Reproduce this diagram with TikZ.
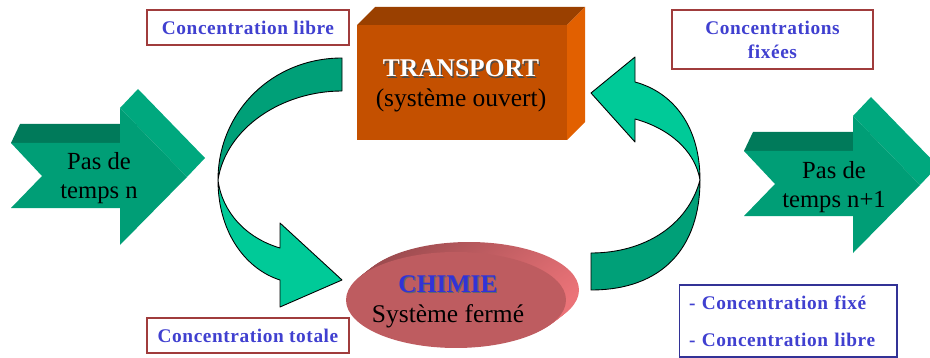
\documentclass[tikz,border=0pt]{standalone}
\usepackage{fontspec}
\setmainfont{Liberation Serif}
\newfontfamily\labelfont[LetterSpace=3]{Liberation Serif}
\usetikzlibrary{calc, positioning}

\definecolor{stepfront}{RGB}{0,158,118}
\definecolor{steptop}{RGB}{0,122,90}
\definecolor{stepside}{RGB}{0,168,126}
\definecolor{ribdark}{RGB}{0,160,120}
\definecolor{riblight}{RGB}{0,202,152}
\definecolor{boxfront}{RGB}{196,80,0}
\definecolor{boxtop}{RGB}{154,64,0}
\definecolor{boxside}{RGB}{226,96,0}
\definecolor{chimfront}{RGB}{190,92,96}
\definecolor{chimdark}{RGB}{158,76,80}
\definecolor{chimlight}{RGB}{235,115,120}
\definecolor{chimblue}{RGB}{50,50,215}
\definecolor{labelblue}{RGB}{64,64,208}
\definecolor{labelred}{RGB}{160,60,60}
\definecolor{labelnavy}{RGB}{50,50,150}

\tikzset{
  lbl/.style={draw=labelred, fill=white, line width=0.6pt, inner sep=0pt, align=center,
    font=\labelfont\bfseries\fontsize{11}{13.6}\selectfont, text=labelblue},
  steptext/.style={font=\fontsize{14}{16.8}\selectfont, align=center},
  bigtext/.style={font=\fontsize{14.5}{17}\selectfont, anchor=base},
  ribbon/.style={draw=black, line width=0.5pt, line join=round},
}

\begin{document}
\begin{tikzpicture}[x=0.02cm, y=-0.02cm]
  \useasboundingbox (0,0) rectangle (930,358);

  % time step arrows
  \foreach \sx/\sy in {0/0, 733/8} {
    \begin{scope}[shift={(\sx,\sy)}]
      \fill[steptop] (11,143) -- (20,124) -- (138,124) -- (120,143) -- cycle;
      \fill[stepside] (120,108) -- (138,89) -- (205,158) -- (187,177) -- cycle;
      \fill[stepfront] (11,143) -- (120,143) -- (120,108) -- (187,177) -- (120,245)
        -- (120,208) -- (11,208) -- (42,176) -- cycle;
    \end{scope}
  }
  \node[steptext] (stepn) at (99,178) {Pas de\\temps n};
  \node[steptext] (stepnext) at (834,187) {Pas de\\temps n+1};

  % transport block
  \fill[boxtop] (357,25) -- (375,7) -- (585,7) -- (567,25) -- cycle;
  \fill[boxside] (567,25) -- (585,7) -- (585,122) -- (567,140) -- cycle;
  \fill[boxfront] (357,25) rectangle (567,140);
  \node[bigtext, font=\bfseries\fontsize{14.5}{17}\selectfont, text=black!70] (transshadow) at (462.2,78.2) {TRANSPORT};
  \node[bigtext, font=\bfseries\fontsize{14.5}{17}\selectfont, text=white] (transtitle) at (461,77) {TRANSPORT};
  \node[bigtext] (transsub) at (461,107) {(système ouvert)};

  % chemistry disk
  \foreach \k in {10,...,1}
    \shade[top color=chimdark, bottom color=chimlight, shading angle=45] ($(456,300)+(1.3*\k,-1*\k)$) ellipse [x radius=2.2cm, y radius=0.96cm];
  \fill[chimfront] (456,300) ellipse [x radius=2.2cm, y radius=0.96cm];
  \node[bigtext, font=\bfseries\fontsize{14.5}{17}\selectfont, text=black!60] (chimshadow) at (449.2,293.2) {CHIMIE};
  \node[bigtext, font=\bfseries\fontsize{14.5}{17}\selectfont, text=chimblue] (chimtitle) at (448,292) {CHIMIE};
  \node[bigtext] (chimsub) at (448,322) {Système fermé};

  % ribbon from transport down to chemistry
  \filldraw[ribbon, fill=ribdark] (342,58) .. controls (272,58) and (218,112) .. (218,180)
    .. controls (226,128) and (282,91) .. (342,91) -- cycle;
  \filldraw[ribbon, fill=riblight] (218,180) .. controls (218,235) and (248,270) .. (280,280)
    -- (280,307) -- (342,280) -- (280,223) -- (280,248)
    .. controls (246,238) and (222,212) .. (218,180) -- cycle;

  % ribbon from chemistry back up to transport
  \filldraw[ribbon, fill=ribdark] (591,290) .. controls (662,290) and (700,248) .. (700,180)
    .. controls (688,225) and (645,253) .. (591,253) -- cycle;
  \filldraw[ribbon, fill=riblight] (700,180) .. controls (700,125) and (672,92) .. (635,82)
    -- (635,57) -- (591,93) -- (635,142) -- (635,119)
    .. controls (668,128) and (695,150) .. (700,180) -- cycle;

  % labels
  \node[lbl, minimum width=4.04cm, minimum height=0.7cm] (freetop) at (248,27.5) {Concentration libre};
  \node[lbl, minimum width=4.02cm, minimum height=1.18cm] (fixed) at (772.5,39.5) {Concentrations\\fixées};
  \node[lbl, minimum width=4.04cm, minimum height=0.7cm] (total) at (248,335.5) {Concentration totale};
  \node[lbl, draw=labelnavy, align=left, text width=3.96cm, inner xsep=0.2cm, minimum height=1.44cm,
    font=\labelfont\bfseries\fontsize{11}{21}\selectfont] (both) at (788,321)
    {- Concentration fixé\\- Concentration libre};
\end{tikzpicture}
\end{document}
